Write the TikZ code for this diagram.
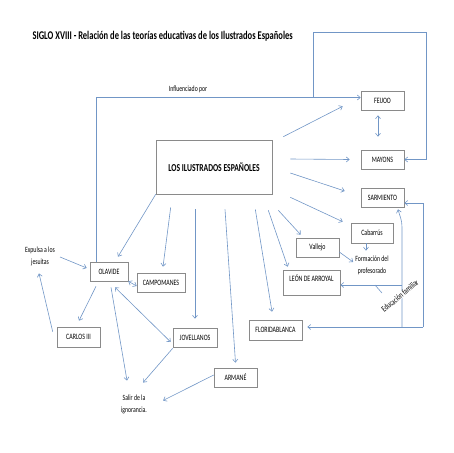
\documentclass[tikz,border=0pt]{standalone}
\usepackage{fontspec}
\setmainfont{Carlito}[FakeStretch=0.72]
\usepackage{tikz}
\usetikzlibrary{positioning,
				arrows.meta,
				calc}
\definecolor{linea}{HTML}{7196C6}
\definecolor{borde}{HTML}{8A8A8A}

\begin{document}
\begin{tikzpicture}[x=1pt, y=-1pt,
		caja/.style={draw=borde, line width=.6pt, minimum width=43pt, minimum height=19pt, inner sep=1pt, font=\fontsize{8.2}{9}\selectfont},
		texto/.style={align=center, inner sep=1pt, font=\fontsize{8}{12.5}\selectfont},
		flecha/.style={draw=linea, line width=.6pt, -{Straight Barb[length=3pt,width=5pt]}},
		doble/.style={flecha, {Straight Barb[length=3pt,width=5pt]}-{Straight Barb[length=3pt,width=5pt]}},
		linea/.style={draw=linea, line width=.6pt}]
	\useasboundingbox (0,0) rectangle (453,453);
	\node[anchor=west, font=\fontsize{11.8}{13}\selectfont\bfseries] (titulo) at (29,36) {SIGLO XVIII - Relación de las teorías educativas de los Ilustrados Españoles};
	% nodos
	\node[caja, minimum width=116pt, minimum height=54pt, font=\fontsize{10.6}{12}\selectfont\bfseries] (ilus) at (214,167) {LOS ILUSTRADOS ESPAÑOLES};
	\node[caja] (feijoo) at (382.5,100.5) {FEIJOO};
	\node[caja] (mayons) at (382.5,159.5) {MAYONS};
	\node[caja] (sarmiento) at (382.5,197.5) {SARMIENTO};
	\node[caja, minimum width=42pt, minimum height=20pt] (cabarrus) at (372,233) {Cabarrús};
	\node[caja] (vallejo) at (317.5,247.5) {Vallejo};
	\node[caja, minimum width=57pt, minimum height=25pt, text depth=8pt] (leon) at (311.5,282.5) {LEÓN DE ARROYAL};
	\node[caja, minimum width=53pt, minimum height=20pt] (florida) at (275.5,330) {FLORIDABLANCA};
	\node[caja] (armane) at (235.5,377.5) {ARMANÉ};
	\node[caja, minimum width=44pt] (jovellanos) at (195,337.5) {JOVELLANOS};
	\node[caja, minimum width=48pt] (campomanes) at (161,282.5) {CAMPOMANES};
	\node[caja, minimum height=20pt] (carlos) at (78.5,337) {CARLOS III};
	\node[caja, minimum width=38pt] (olavide) at (109,271.5) {OLAVIDE};
	\node[texto] (expulsa) at (40,256.5) {Expulsa a los\\jesuitas};
	\node[texto] (formacion) at (372,265.5) {Formación del\\profesorado};
	\node[texto] (salir) at (134,404.5) {Salir de la\\ignorancia.};
	\node[texto, font=\fontsize{8}{9}\selectfont] (influ) at (188,89) {Influenciado por};
	% arcos
	\draw[flecha] ([shift={(11,-3)}]ilus.north east) -- ([shift={(-18,-4)}]feijoo.south west);
	\draw[flecha] ([shift={(18,-8)}]ilus.east) -- ([shift={(-11,0)}]mayons.west);
	\draw[flecha] ([shift={(18,6)}]ilus.east) -- ([shift={(-16,-6.5)}]sarmiento.west);
	\draw[flecha] ([shift={(18,3)}]ilus.south east) -- ([shift={(-8,-1)}]cabarrus.north west);
	\draw[flecha] ([shift={(6,16)}]ilus.south east) -- ([shift={(5,-3)}]vallejo.north west);
	\draw[flecha] ([shift={(-4,16)}]ilus.south east) -- ([shift={(5,-3)}]leon.north west);
	\draw[flecha] ([shift={(-17,15)}]ilus.south east) -- ([shift={(-3.5,-8)}]florida.north);
	\draw[flecha] ([shift={(11,15)}]ilus.south) -- ([shift={(0,-5)}]armane.north);
	\draw[flecha] ([shift={(-19,15)}]ilus.south) -- ([shift={(0,-9)}]jovellanos.north);
	\draw[flecha] ([shift={(15,13)}]ilus.south west) -- ([shift={(2,-6)}]campomanes.north);
	\draw[flecha] (ilus.south west) -- ([shift={(9,-5)}]olavide.north);
	% derecha
	\draw[doble] ([shift={(-4.5,5)}]feijoo.south) -- ([shift={(-4.5,-13)}]mayons.north);
	\draw[flecha] ([xshift=-13pt]olavide.north) |- ([shift={(0,-3)}]feijoo.west) coordinate[pos=.91] (lazo);
	\draw[flecha] (lazo) |- ++(113,-65) |- (mayons.east);
	\draw[flecha] ([shift={(-6,0)}]cabarrus.south) -- ([shift={(-6,-4)}]formacion.north);
	\draw[flecha] ([shift={(0,4.5)}]vallejo.east) -- ([shift={(-1,-3.5)}]formacion.west);
	\coordinate (famA) at (402,327);
	\coordinate (famB) at (423,327);
	\coordinate (leonIn) at ([shift={(0,2.5)}]leon.east);
	\draw[flecha] (famB) |- ([shift={(0,5.5)}]sarmiento.east);
	\draw[flecha] (famB) -- ([shift={(5,-3)}]florida.east);
	\draw[flecha] (famA) -- ++(0,-100) to[out=90,in=-75] ([shift={(15.5,2)}]sarmiento.south);
	\draw[flecha] (leonIn -| famA) -- (leonIn);
	\coordinate (eduA) at (375,285);
	\draw[linea] (eduA) -- (382,293);
	\node[texto, fill=white, inner sep=0pt, font=\fontsize{8.5}{9}\selectfont, rotate=40] (edu) at (400,296) {Educación familiar};
	% izquierda
	\draw[flecha] ([shift={(4,0.5)}]expulsa.east) -- ([shift={(-3,-3.5)}]olavide.west);
	\draw[flecha] ([shift={(-4,5)}]carlos.north west) -- ([shift={(-1,6)}]expulsa.south);
	\draw[flecha] ([shift={(-13,5)}]olavide.south) -- ([shift={(0.5,-6)}]carlos.north);
	\draw[doble] (olavide.south east) -- ([shift={(0,3.5)}]campomanes.west);
	\draw[doble] ([shift={(6,6)}]olavide.south) -- ([shift={(-2,4.5)}]jovellanos.west);
	\draw[flecha] ([shift={(2,6)}]olavide.south) -- ([shift={(-7,-13)}]salir.north);
	\draw[flecha] ([shift={(0,1)}]jovellanos.south west) -- ([shift={(9,-11)}]salir.north);
	\draw[flecha] ([shift={(0,-2.5)}]armane.west) -- ([shift={(15,-4)}]salir.east);
\end{tikzpicture}
\end{document}
